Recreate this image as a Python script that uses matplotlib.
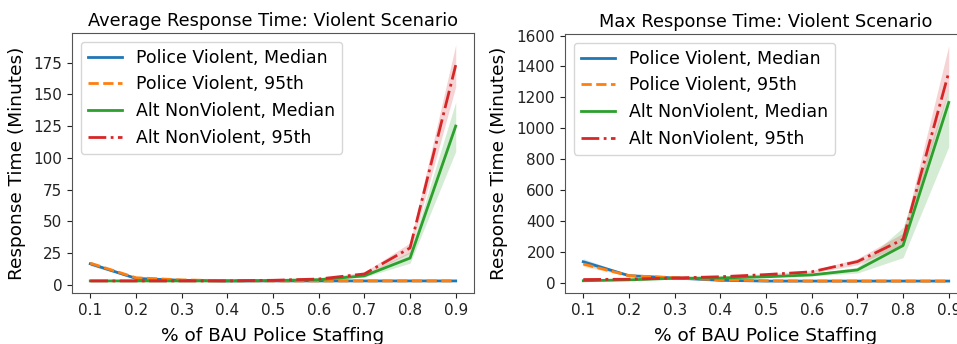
import matplotlib
matplotlib.use("Agg")
import matplotlib.pyplot as plt
import numpy as np

x = [0.1, 0.2, 0.3, 0.4, 0.5, 0.6, 0.7, 0.8, 0.9]
labels = ["Police Violent, Median", "Police Violent, 95th",
          "Alt NonViolent, Median", "Alt NonViolent, 95th"]

# Average response time
avg_police_med = [16.5, 5, 3.5, 3, 3, 3, 3, 3, 3]
avg_police_med_lo = [15, 4.5, 3.2, 2.8, 2.8, 2.8, 2.8, 2.8, 2.8]
avg_police_med_hi = [18, 5.5, 3.8, 3.2, 3.2, 3.2, 3.2, 3.2, 3.2]
avg_police_95 = [17, 5.5, 3.8, 3.2, 3, 3, 3, 3, 3]
avg_police_95_lo = [15.5, 5, 3.5, 3, 2.8, 2.8, 2.8, 2.8, 2.8]
avg_police_95_hi = [18.5, 6, 4.1, 3.4, 3.2, 3.2, 3.2, 3.2, 3.2]
avg_alt_med = [3, 3, 3, 3, 3.3, 4, 7, 21, 125]
avg_alt_med_lo = [2.8, 2.8, 2.8, 2.8, 3, 3.6, 6, 17, 105]
avg_alt_med_hi = [3.2, 3.2, 3.2, 3.2, 3.6, 4.5, 8, 26, 144]
avg_alt_95 = [3, 3, 3, 3, 3.5, 4.5, 8.5, 29, 173]
avg_alt_95_lo = [2.8, 2.8, 2.8, 2.8, 3.2, 4, 7.5, 25, 156]
avg_alt_95_hi = [3.2, 3.2, 3.2, 3.2, 3.8, 5, 10, 33, 189]

# Max response time
max_police_med = [135, 45, 30, 15, 10, 10, 10, 10, 10]
max_police_med_lo = [115, 40, 27, 13, 9, 9, 9, 9, 9]
max_police_med_hi = [155, 50, 33, 17, 11, 11, 11, 11, 11]
max_police_95 = [120, 45, 32, 18, 12, 10, 10, 10, 10]
max_police_95_lo = [105, 40, 29, 15, 10, 9, 9, 9, 9]
max_police_95_hi = [135, 52, 35, 21, 14, 11, 11, 11, 11]
max_alt_med = [12, 18, 28, 30, 38, 50, 82, 240, 1167]
max_alt_med_lo = [10, 15, 24, 26, 33, 43, 62, 162, 880]
max_alt_med_hi = [14, 21, 32, 34, 43, 57, 100, 358, 1250]
max_alt_95 = [20, 22, 30, 38, 52, 70, 136, 280, 1361]
max_alt_95_lo = [17, 19, 27, 34, 46, 62, 115, 250, 1250]
max_alt_95_hi = [23, 25, 33, 42, 58, 78, 155, 320, 1534]

colors = ["#1f77b4", "#ff7f0e", "#2ca02c", "#d62728"]
styles = ["-", "--", "-", "-."]

W, H = 957, 344
fig = plt.figure(figsize=(W / 100, H / 100), dpi=100)

def ax_rect(l, t, r, b):
    return [l / W, (H - b) / H, (r - l) / W, (b - t) / H]

ax1 = fig.add_axes(ax_rect(72, 33, 474, 293))
ax2 = fig.add_axes(ax_rect(565, 34, 967, 293))

def draw(ax, series, title, yticks, ylpad):
    for (m, lo, hi), c, s, lab in zip(series, colors, styles, labels):
        ax.fill_between(x, lo, hi, color=c, alpha=0.2, linewidth=0)
        ax.plot(x, m, color=c, linestyle=s, linewidth=2, label=lab)
    ax.set_title(title, fontsize=12.8, pad=5)
    ax.set_xticks(x)
    ax.set_xticklabels([f"{v:.1f}" for v in x])
    ax.set_yticks(yticks)
    ax.tick_params(labelsize=11, colors="#222222")
    ax.set_xlabel("% of BAU Police Staffing", fontsize=13.3, labelpad=7)
    ax.set_ylabel("Response Time (Minutes)", fontsize=13.3, labelpad=ylpad)
    for sp in ax.spines.values():
        sp.set_color("#555555")
    ax.legend(loc="upper left", fontsize=12.5)

draw(ax1, [(avg_police_med, avg_police_med_lo, avg_police_med_hi),
           (avg_police_95, avg_police_95_lo, avg_police_95_hi),
           (avg_alt_med, avg_alt_med_lo, avg_alt_med_hi),
           (avg_alt_95, avg_alt_95_lo, avg_alt_95_hi)],
     "Average Response Time: Violent Scenario", list(range(0, 176, 25)), 5)
draw(ax2, [(max_police_med, max_police_med_lo, max_police_med_hi),
           (max_police_95, max_police_95_lo, max_police_95_hi),
           (max_alt_med, max_alt_med_lo, max_alt_med_hi),
           (max_alt_95, max_alt_95_lo, max_alt_95_hi)],
     "Max Response Time: Violent Scenario", list(range(0, 1601, 200)), 6)

fig.savefig("out.png", dpi=100)
